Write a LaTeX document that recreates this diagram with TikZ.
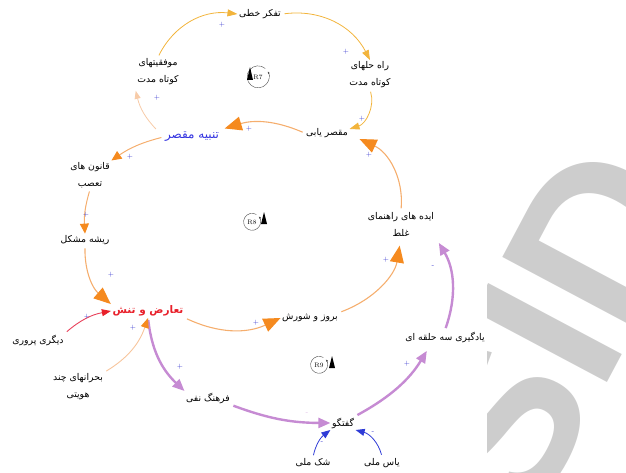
\documentclass[tikz,border=0pt]{standalone}
\usepackage{fontspec}
\newfontfamily\arabicfont[Script=Arabic]{DejaVu Sans}
\newfontfamily\wmfont{Liberation Sans}
\TeXXeTstate=1
\usetikzlibrary{arrows.meta}

\definecolor{yelarr}{HTML}{F2B43C}
\definecolor{peach}{HTML}{F7CBA8}
\definecolor{orline}{HTML}{F5AE6E}
\definecolor{orhead}{HTML}{F58A1F}
\definecolor{purp}{HTML}{C68BD3}
\definecolor{sgnblue}{HTML}{3A3AD0}
\definecolor{tanblue}{HTML}{3333E0}
\definecolor{redtxt}{HTML}{E8202A}
\definecolor{redline}{HTML}{E8405A}
\definecolor{bluearr}{HTML}{2E3BD6}
\definecolor{wmgray}{HTML}{CDCDCD}

\newcommand{\fatext}[1]{{\arabicfont\beginR #1\endR}}

\tikzset{
  lbl/.style={inner sep=1.5pt, align=center, font=\fontsize{9.3}{17}\selectfont},
  sgn/.style={inner sep=0pt, text=sgnblue, font=\fontsize{7}{7}\selectfont},
  loopmark/.style={circle, minimum size=#1, inner sep=0pt, font=\fontsize{6.5}{7}\selectfont},
  yelarrow/.style={draw=yelarr, line width=0.8pt, shorten <=2pt, -{Triangle[length=10pt,width=7pt,color=yelarr]}},
  peacharrow/.style={draw=peach, line width=0.8pt, shorten <=2pt, -{Triangle[length=8pt,width=6pt,color=peach]}},
  medor/.style={draw=orline, line width=1pt, shorten <=2pt, -{Triangle[length=10pt,width=9pt,color=orhead]}},
  bigor/.style={draw=orline, line width=1.1pt, shorten <=2pt, -{Triangle[length=17pt,width=14pt,color=orhead]}},
  purarrow/.style={draw=purp, line width=2.4pt, shorten <=2pt, -{Triangle[length=12pt,width=10pt,color=purp]}},
  bluearrow/.style={draw=bluearr, line width=0.8pt, shorten <=2pt, -{Triangle[length=9pt,width=7pt,color=bluearr]}},
  redarrow/.style={draw=redline, line width=0.9pt, shorten <=2pt, -{Triangle[length=9pt,width=7pt,color=redtxt]}},
  lorarrow/.style={draw=peach!80!orline, line width=0.9pt, shorten <=2pt, -{Triangle[length=10pt,width=8pt,color=orhead]}}
}

\begin{document}
\begin{tikzpicture}[x=1pt,y=1pt]
\useasboundingbox (0,0) rectangle (626,-473);

\begin{scope}
\clip (487,0) rectangle (626,-473);
\node[rotate=62, text=wmgray, inner sep=0pt, font=\wmfont\bfseries\fontsize{220}{220}\selectfont] (wm) at (551,-328) {SID};
\end{scope}

\node[lbl] (tafakor) at (260,-14) {\fatext{تفکر خطی}};
\node[lbl] (rahhal) at (370,-75) {\fatext{راه حلهای}\\\fatext{کوتاه مدت}};
\node[lbl] (movafagh) at (158,-72) {\fatext{موفقیتهای}\\\fatext{کوتاه مدت}};
\node[lbl] (moghaser) at (327,-133) {\fatext{مقصر یابی}};
\node[lbl, text=tanblue, font=\fontsize{12}{14}\selectfont] (tanbih) at (192,-137) {\fatext{تنبیه مقصر}};
\node[lbl] (ghanoon) at (90,-175) {\fatext{قانون های}\\\fatext{تعصب}};
\node[lbl] (risheh) at (85,-240) {\fatext{ریشه مشکل}};
\node[lbl, text=redtxt, font=\fontsize{10.5}{12}\selectfont\bfseries] (taaroz) at (148,-311) {\fatext{تعارض و تنش}};
\node[lbl] (boruz) at (310,-318) {\fatext{بروز و شورش}};
\node[lbl] (ideh) at (401,-224) {\fatext{ایده های راهنمای}\\\fatext{غلط}};
\node[lbl] (yadgiri) at (445,-337) {\fatext{یادگیری سه حلقه ای}};
\node[lbl] (farhang) at (208,-398) {\fatext{فرهنگ نفی}};
\node[lbl] (goftogu) at (343,-423) {\fatext{گفتگو}};
\node[lbl] (shak) at (313,-463) {\fatext{شک ملی}};
\node[lbl] (yas) at (382,-463) {\fatext{یاس ملی}};
\node[lbl] (digari) at (38,-340) {\fatext{دیگری پروری}};
\node[lbl] (bohran) at (78,-387) {\fatext{بحرانهای چند}\\\fatext{هویتی}};

\node[loopmark=22pt] (rseven) at (258,-77) {R7};
\draw[black!70, -{Latex[length=2.5pt]}] (rseven.50) arc[start angle=50, end angle=390, radius=11pt];
\fill (250,-67) -- (247,-80) -- (253,-80) -- cycle;
\node[loopmark=17pt] (reight) at (252,-222) {R8};
\draw[black!70, -{Latex[length=2.5pt]}] (reight.60) arc[start angle=60, end angle=400, radius=8.5pt];
\fill (264,-212) -- (261,-224) -- (267,-224) -- cycle;
\node[loopmark=17pt] (rnine) at (319,-365) {R9};
\draw[black!70, -{Latex[length=2.5pt]}] (rnine.60) arc[start angle=60, end angle=400, radius=8.5pt];
\fill (332,-356) -- (329,-368) -- (335,-368) -- cycle;

\draw[yelarrow] (movafagh.north) to[bend left=35] (tafakor.west);
\draw[yelarrow] (tafakor.east) to[bend left=35] (rahhal.north);
\draw[yelarrow] (rahhal.south) to[bend left=45] ([yshift=4pt]moghaser.east);
\draw[bigor] (moghaser.west) to[bend right=20] ([xshift=4pt,yshift=2pt]tanbih.north east);
\draw[peacharrow] ([xshift=-6pt]tanbih.north west) to[bend left=15] ([yshift=-4pt]movafagh.south west);
\draw[medor] (tanbih.west) to[bend right=10] (ghanoon.north east);
\draw[medor] (ghanoon.south) to[bend right=10] (risheh.north);
\draw[bigor] (risheh.south) to[bend right=25] (taaroz.north west);
\draw[bigor] (taaroz.south east) to[bend right=25] (boruz.west);
\draw[bigor, shorten >=8pt] (boruz.north east) to[bend right=30] (ideh.south);
\draw[bigor] (ideh.north) to[bend right=35] ([xshift=10pt,yshift=-6pt]moghaser.east);
\draw[purarrow] (taaroz.south) to[bend right=20] (farhang.north west);
\draw[purarrow] (farhang.south east) to[bend right=10] (goftogu.west);
\draw[purarrow, shorten >=8pt] (goftogu.north east) to[bend right=15] ([xshift=-14pt]yadgiri.south);
\draw[purarrow, shorten >=6pt] (yadgiri.north) to[bend right=25] (ideh.south east);
\draw[bluearrow] (shak.north) to[bend left=20] (goftogu.south west);
\draw[bluearrow] (yas.north) to[bend right=30] (goftogu.south east);
\draw[redarrow] (digari.north east) to[bend left=15] (taaroz.west);
\draw[lorarrow] (bohran.north east) to[bend right=20] (taaroz.south);

\node[sgn] (s1) at (222,-25) {+};
\node[sgn] (s2) at (346,-52) {+};
\node[sgn] (s3) at (362,-119) {+};
\node[sgn] (s4) at (249,-129) {+};
\node[sgn] (s5) at (157,-98) {+};
\node[sgn] (s6) at (130,-157) {+};
\node[sgn] (s7) at (86,-215) {+};
\node[sgn] (s8) at (111,-275) {+};
\node[sgn] (s9) at (256,-323) {+};
\node[sgn] (s10) at (386,-260) {+};
\node[sgn] (s11) at (369,-155) {+};
\node[sgn] (s12) at (180,-367) {+};
\node[sgn, text=purp!60] (s13) at (307,-414) {-};
\node[sgn] (s14) at (407,-364) {+};
\node[sgn] (s15) at (433,-267) {-};
\node[sgn] (s16) at (322,-443) {-};
\node[sgn] (s17) at (373,-433) {-};
\node[sgn] (s18) at (87,-317) {+};
\node[sgn] (s19) at (133,-328) {+};
\end{tikzpicture}
\end{document}
